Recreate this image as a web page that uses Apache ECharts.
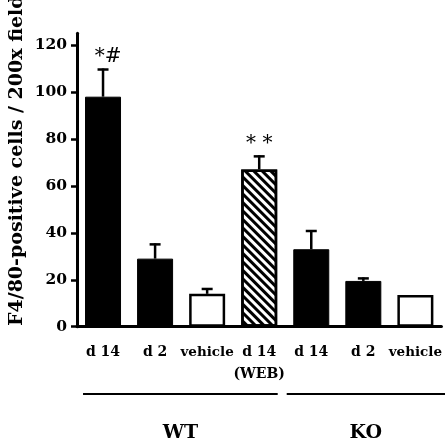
<!DOCTYPE html>
<html>
<head>
<meta charset="utf-8">
<script src="https://cdn.jsdelivr.net/npm/echarts@6/dist/echarts.min.js"></script>
<style>
html,body{margin:0;padding:0;background:#fff;}
#chart{width:445px;height:442px;}
</style>
</head>
<body>
<div id="chart"></div>
<script>
// ---- data ----
var categories = ['d 14', 'd 2', 'vehicle', 'd 14\n(WEB)', 'd 14', 'd 2', 'vehicle'];
var means = [98, 29, 14, 67, 33, 19.5, 13.5];
var errors = [12, 6.5, 2.5, 6, 8.2, 1.5, 0];
var annotations = ['*#', '', '', '* *', '', '', ''];
var barKinds = ['solid', 'solid', 'open', 'hatched', 'solid', 'solid', 'open'];
var groupNames = ['WT', 'KO'];
var groupSpans = [[0, 3], [4, 6]];
var yTicks = [0, 20, 40, 60, 80, 100, 120];
var yName = 'F4/80-positive cells / 200x field';

var FONT = 'DejaVu Serif';

var chart = echarts.init(document.getElementById('chart'), null, {renderer: 'canvas'});

function itemFor(v, i) {
  var k = barKinds[i];
  if (k === 'solid') {
    return {value: v, itemStyle: {color: '#000', borderColor: '#000', borderWidth: 1}};
  } else if (k === 'open') {
    return {value: v, itemStyle: {color: '#fff', borderColor: '#000', borderWidth: 2.5}};
  } else {
    return {value: v, itemStyle: {color: '#fff', borderColor: '#000', borderWidth: 2.5,
      decal: {symbol: 'rect', symbolSize: 1, color: '#000', dashArrayX: [1, 0], dashArrayY: [2.4, 2.2], rotation: Math.PI / 4}}};
  }
}

var option = {
  animation: false,
  backgroundColor: '#fff',
  grid: {left: 77, right: 3, top: 33.3, bottom: 115.3, containLabel: false},
  xAxis: {
    type: 'category',
    data: categories,
    axisLine: {lineStyle: {color: '#000', width: 3}},
    axisTick: {show: false},
    axisLabel: {
      interval: 0,
      margin: 15,
      formatter: function (v) {
        return v.split('\n').map(function (s) {
          return (s === 'vehicle' ? '{s|' : '{d|') + s + '}';
        }).join('\n');
      },
      rich: {
        d: {fontFamily: FONT, fontWeight: 'bold', fontSize: 14, color: '#000', lineHeight: 22},
        s: {fontFamily: FONT, fontWeight: 'bold', fontSize: 13.5, color: '#000', lineHeight: 22}
      }
    }
  },
  yAxis: {
    type: 'value',
    min: 0,
    max: 125,
    splitLine: {show: false},
    axisLine: {show: true, lineStyle: {color: '#000', width: 3}},
    axisTick: {show: true, inside: false, length: 6, lineStyle: {color: '#000', width: 2.5}, customValues: yTicks},
    axisLabel: {customValues: yTicks, margin: 10, fontFamily: FONT, fontWeight: 'bold', fontSize: 15.5, color: '#000'}
  },
  series: [
    {
      type: 'bar',
      barWidth: 36,
      data: means.map(itemFor),
      z: 2
    },
    {
      type: 'custom',
      z: 3,
      data: means.map(function (m, i) { return [i, m, m + errors[i]]; }),
      renderItem: function (params, api) {
        var i = api.value(0);
        var base = api.coord([i, api.value(1)]);
        var top = api.coord([i, api.value(2)]);
        var children = [];
        if (errors[i] > 0) {
          children.push({type: 'line', shape: {x1: base[0], y1: base[1], x2: top[0], y2: top[1]}, style: {stroke: '#000', lineWidth: 2.5}});
          children.push({type: 'line', shape: {x1: top[0] - 5.5, y1: top[1] + 1, x2: top[0] + 5.5, y2: top[1] + 1}, style: {stroke: '#000', lineWidth: 2.5}});
        }
        if (annotations[i]) {
          children.push({type: 'text', style: {text: annotations[i], x: top[0] + (annotations[i] === '*#' ? 5 : 0), y: top[1] - 12,
            align: 'center', verticalAlign: 'middle', font: 'normal 20px "' + FONT + '"', fill: '#000'}});
        }
        return {type: 'group', children: children};
      }
    }
  ]
};
chart.setOption(option);

// decorations: group lines, group labels, y-axis title
var graphics = [];
var prevEnd = null;
groupSpans.forEach(function (span, gi) {
  var cFrom = chart.convertToPixel({xAxisIndex: 0}, span[0]);
  var cTo = chart.convertToPixel({xAxisIndex: 0}, span[1]);
  var x1 = gi === 0 ? cFrom - 20 : prevEnd + 9;
  var x2 = gi === groupSpans.length - 1 ? 445 : cTo + 18.5;
  prevEnd = x2;
  graphics.push({type: 'line', shape: {x1: x1, y1: 394, x2: x2, y2: 394}, style: {stroke: '#000', lineWidth: 2}});
  graphics.push({type: 'text', x: (x1 + x2) / 2, y: 433, style: {text: groupNames[gi], font: 'bold 19px "' + FONT + '"', fill: '#000', align: 'center', verticalAlign: 'middle'}});
});
graphics.push({type: 'text', x: 17, y: 326, rotation: Math.PI / 2,
  style: {text: yName, font: 'bold 19px "' + FONT + '"', fill: '#000', align: 'left', verticalAlign: 'middle'}});
chart.setOption({graphic: graphics});
</script>
</body>
</html>
